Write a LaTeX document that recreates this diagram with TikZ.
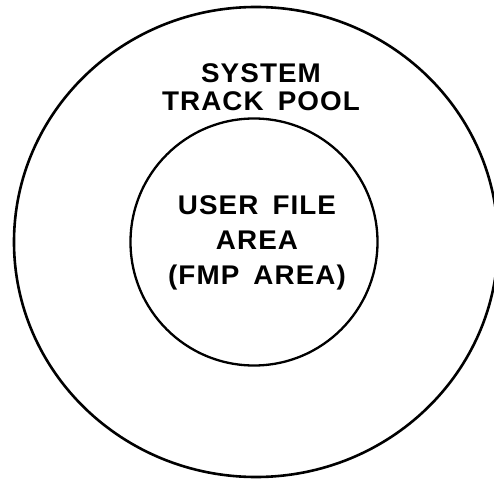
\documentclass[tikz,border=0pt]{standalone}
\usepackage{fontspec}
\setmainfont{Liberation Sans}[FakeStretch=1.03, LetterSpace=4, WordSpace=1.6]
\usetikzlibrary{shapes.geometric}

\tikzset{
  ring/.style={draw, line width=2.6pt, inner sep=0pt},
  areatext/.style={font=\bfseries\fontsize{27}{#1}\selectfont, align=center, inner sep=0pt}
}

\begin{document}
\begin{tikzpicture}[x=1pt, y=-1pt]
  \useasboundingbox (0,0) rectangle (494,478);

  % the two areas of the disc
  \node[ring, ellipse, minimum width=484pt, minimum height=470pt] (pool) at (256,242) {};
  \node[ring, circle, line width=2.3pt, minimum size=247pt] (fmp) at (254,242) {};

  \node[areatext=28.5] (pooltext) at (261,87) {SYSTEM\\TRACK POOL};
  \node[areatext=35] (fmptext) at (257,243) {USER FILE\\AREA\\(FMP AREA)};
\end{tikzpicture}
\end{document}
